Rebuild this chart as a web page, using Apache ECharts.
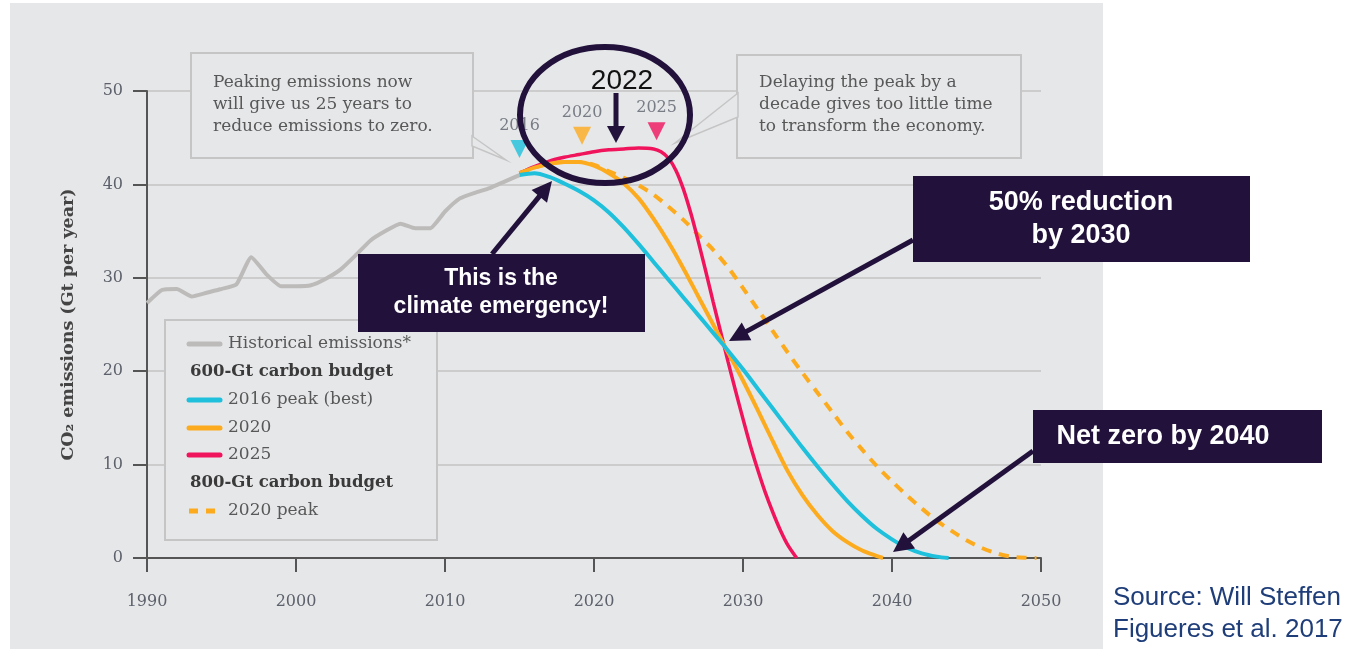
<!DOCTYPE html>
<html>
<head>
<meta charset="utf-8">
<script src="https://cdn.jsdelivr.net/npm/echarts@6/dist/echarts.min.js"></script>
<style>
html,body{margin:0;padding:0;background:#fff;}
#panel{position:absolute;left:10px;top:3px;width:1093px;height:646px;background:#e6e7e9;}
#chart{position:absolute;left:0;top:0;width:1358px;height:649px;}
</style>
</head>
<body>
<div id="panel"></div>
<div id="chart"></div>
<script>
// ---------- DATA ----------
const histYears = [1990,1991,1992,1993,1994,1995,1996,1997,1998,1999,2000,2001,2002,2003,2004,2005,2006,2007,2008,2009,2010,2011,2012,2013,2014,2015];
const histValues = [27.3,28.7,28.8,28.0,28.4,28.8,29.3,32.2,30.4,29.1,29.1,29.2,29.9,30.9,32.4,34.0,35.0,35.8,35.3,35.3,37.1,38.5,39.1,39.6,40.3,41.0];

const peak2016Years = [2015,2016,2017,2018,2019,2020,2021,2022,2023,2024,2025,2026,2027,2028,2029,2030,2031,2032,2033,2034,2035,2036,2037,2038,2039,2040,2041,2042,2043,2043.8];
const peak2016Values = [41.0,41.2,40.8,40.1,39.3,38.3,37.0,35.4,33.6,31.7,29.8,27.9,26.0,24.1,22.2,20.2,18.1,16.0,13.9,11.8,9.8,7.9,6.1,4.5,3.1,2.0,1.1,0.5,0.15,0];

const peak2020Years = [2015,2016,2017,2018,2019,2020,2021,2022,2023,2024,2025,2026,2027,2028,2029,2030,2031,2032,2033,2034,2035,2036,2037,2038,2039,2039.4];
const peak2020Values = [41.2,41.8,42.2,42.4,42.4,42.0,41.2,40.1,38.5,36.3,33.8,31.0,28.0,25.0,22.0,19.0,15.8,12.5,9.3,6.7,4.6,2.9,1.7,0.8,0.2,0];

const peak2025Years = [2015,2016,2017,2018,2019,2020,2021,2022,2023,2024,2024.5,2025,2025.5,2026,2026.5,2027,2027.5,2028,2028.5,2029,2029.5,2030,2030.5,2031,2031.5,2032,2032.5,2033,2033.6];
const peak2025Values = [41.2,41.9,42.5,42.9,43.2,43.5,43.7,43.8,43.9,43.8,43.5,42.8,41.5,39.5,36.9,33.9,30.7,27.4,24.2,21.0,17.9,14.9,12.0,9.4,7.0,4.9,3.0,1.4,0];

const budget800Years = [2015,2016,2017,2018,2019,2020,2021,2022,2023,2024,2025,2026,2027,2028,2029,2030,2031,2032,2033,2034,2035,2036,2037,2038,2039,2040,2041,2042,2043,2044,2045,2046,2047,2048,2049,2049.7];
const budget800Values = [41.2,41.8,42.2,42.4,42.4,42.1,41.4,40.7,39.9,38.9,37.6,36.2,34.6,33.0,31.1,28.9,26.6,24.3,22.0,19.8,17.7,15.6,13.5,11.6,9.8,8.2,6.7,5.3,4.0,2.9,1.9,1.1,0.5,0.15,0.02,0];

const peakMarkerYears = [2015, 2019.2, 2024.2];
const peakMarkerValues = [43.8, 45.2, 45.7];
const peakMarkerLabels = ['2016', '2020', '2025'];

const legendLabels = ['Historical emissions*', '600-Gt carbon budget', '2016 peak (best)', '2020', '2025', '800-Gt carbon budget', '2020 peak'];
const xTicks = [1990, 2000, 2010, 2020, 2030, 2040, 2050];
const yTicks = [0, 10, 20, 30, 40, 50];

// ---------- STYLE ----------
const BG = '#e6e7e9';
const DARK = '#22113b';
const GRAY = '#bdbbba';
const CYAN = '#1ec0dc';
const ORANGE = '#fdab1e';
const RED = '#f0145c';
const SERIF = '"DejaVu Serif", serif';
const SANS = '"Liberation Sans", Arial, sans-serif';
const TICKC = '#5d616b';
const markerColors = [CYAN, ORANGE, RED];

function pairs(xs, ys) { return xs.map((x, i) => [x, ys[i]]); }

function arrow(x1, y1, x2, y2, w, hl, hw) {
  const dx = x2 - x1, dy = y2 - y1, L = Math.hypot(dx, dy);
  const ux = dx / L, uy = dy / L;
  const bx = x2 - ux * hl, by = y2 - uy * hl;
  const px = -uy, py = ux;
  return [
    {type: 'line', z: 200, shape: {x1: x1, y1: y1, x2: bx + ux * 2, y2: by + uy * 2}, style: {stroke: DARK, lineWidth: w}},
    {type: 'polygon', z: 200, shape: {points: [[x2, y2], [bx + px * hw, by + py * hw], [bx - px * hw, by - py * hw]]}, style: {fill: DARK}}
  ];
}

function txt(x, y, text, font, fill, align, vAlign, lineHeight, z) {
  return {type: 'text', z: z || 120, style: {x: x, y: y, text: text, font: font, fill: fill,
    align: align || 'left', verticalAlign: vAlign || 'middle', textAlign: align || 'left', textVerticalAlign: vAlign || 'middle',
    lineHeight: lineHeight}};
}

const graphics = [];
// callout box 1
graphics.push({type: 'rect', z: 50, shape: {x: 191, y: 53, width: 282, height: 105}, style: {fill: BG, stroke: '#c5c5c5', lineWidth: 2}});
graphics.push({type: 'polygon', z: 51, shape: {points: [[472, 136], [506, 160], [472, 146]]}, style: {fill: BG, stroke: '#c5c5c5', lineWidth: 1.5}});
graphics.push(txt(213, 72, 'Peaking emissions now\nwill give us 25 years to\nreduce emissions to zero.', '17px ' + SERIF, '#585858', 'left', 'top', 22, 60));
// callout box 2
graphics.push({type: 'rect', z: 50, shape: {x: 737, y: 55, width: 284, height: 103}, style: {fill: BG, stroke: '#c5c5c5', lineWidth: 2}});
graphics.push({type: 'polygon', z: 51, shape: {points: [[738, 93], [675, 143], [738, 117]]}, style: {fill: BG, stroke: '#c5c5c5', lineWidth: 1.5}});
graphics.push(txt(759, 72, 'Delaying the peak by a\ndecade gives too little time\nto transform the economy.', '17px ' + SERIF, '#585858', 'left', 'top', 22, 60));

// legend box
graphics.push({type: 'rect', z: 50, shape: {x: 165, y: 320, width: 272, height: 220}, style: {fill: BG, stroke: '#c5c5c5', lineWidth: 2}});
const legendRows = [344, 372, 400, 428, 455, 483, 511];
const legendLineColors = [GRAY, null, CYAN, ORANGE, RED, null, ORANGE];
legendLabels.forEach((lab, i) => {
  const y = legendRows[i];
  const c = legendLineColors[i];
  if (c) {
    graphics.push({type: 'line', z: 60, shape: {x1: 189, y1: y, x2: 220, y2: y},
      style: {stroke: c, lineWidth: 5, lineCap: i === 6 ? 'butt' : 'round', lineDash: i === 6 ? [9, 8] : null}});
    graphics.push(txt(228, y, lab, '17px ' + SERIF, '#585858', 'left', 'middle', null, 60));
  } else {
    graphics.push(txt(190, y, lab, 'bold 16.5px ' + SERIF, '#3a3a3a', 'left', 'middle', null, 60));
  }
});

// dark annotation boxes
graphics.push({type: 'rect', z: 150, shape: {x: 358, y: 254, width: 287, height: 78}, style: {fill: DARK}});
graphics.push(txt(501, 293, 'This is the\nclimate emergency!', 'bold 23px ' + SANS, '#ffffff', 'center', 'middle', 28, 160));
graphics.push({type: 'rect', z: 150, shape: {x: 913, y: 176, width: 337, height: 86}, style: {fill: DARK}});
graphics.push(txt(1081, 219, '50% reduction\nby 2030', 'bold 27px ' + SANS, '#ffffff', 'center', 'middle', 33, 160));
graphics.push({type: 'rect', z: 150, shape: {x: 1033, y: 410, width: 289, height: 53}, style: {fill: DARK}});
graphics.push(txt(1163, 437, 'Net zero by 2040', 'bold 27px ' + SANS, '#ffffff', 'center', 'middle', null, 160));

// arrows
arrow(492, 254, 552, 181, 5, 20, 10).forEach(g => graphics.push(g));
arrow(913, 240, 729, 341, 5, 20, 10).forEach(g => graphics.push(g));
arrow(1033, 451, 893, 552, 5, 20, 10).forEach(g => graphics.push(g));
arrow(616, 93, 616, 143, 5, 17, 9).forEach(g => graphics.push(g));

// ellipse and 2022
graphics.push({type: 'ellipse', z: 190, shape: {cx: 605, cy: 115, rx: 85, ry: 68}, style: {fill: null, stroke: DARK, lineWidth: 6}});
graphics.push(txt(622, 81, '2022', '28px ' + SANS, '#111111', 'center', 'middle', null, 195));

// source
graphics.push(txt(1113, 614, 'Source: Will Steffen\nFigueres et al. 2017', '26px ' + SANS, '#1f3e79', 'left', 'middle', 32, 100));

const lineBase = {type: 'line', showSymbol: false, symbol: 'none', smooth: 0.3, z: 5};

const option = {
  animation: false,
  backgroundColor: 'transparent',
  grid: {left: 147, right: 317, top: 91, bottom: 91, containLabel: false},
  xAxis: {
    type: 'value', min: 1990, max: 2050, interval: 10,
    axisLine: {show: true, onZero: false, lineStyle: {color: '#555', width: 2}},
    axisTick: {show: true, length: 14, lineStyle: {color: '#555', width: 2}},
    axisLabel: {margin: 36, fontFamily: SERIF, fontSize: 16, color: TICKC, formatter: v => String(v)},
    splitLine: {show: false}
  },
  yAxis: {
    type: 'value', min: 0, max: 50, interval: 10,
    name: 'CO\u2082 emissions (Gt per year)', nameLocation: 'middle', nameRotate: 90, nameGap: 70,
    nameTextStyle: {fontFamily: SERIF, fontSize: 17.5, fontWeight: 'bold', color: '#444'},
    axisLine: {show: true, lineStyle: {color: '#555', width: 2}},
    axisTick: {show: true, length: 14, lineStyle: {color: '#555', width: 2}},
    axisLabel: {margin: 24, fontFamily: SERIF, fontSize: 16, color: TICKC, formatter: v => String(v)},
    splitLine: {show: true, lineStyle: {color: '#c3c3c3', width: 1.5}}
  },
  series: [
    Object.assign({}, lineBase, {name: legendLabels[0], data: pairs(histYears, histValues), smooth: 0.15, lineStyle: {color: GRAY, width: 4}}),
    Object.assign({}, lineBase, {name: legendLabels[6], data: pairs(budget800Years, budget800Values), lineStyle: {color: ORANGE, width: 4, type: [10, 8]}}),
    Object.assign({}, lineBase, {name: legendLabels[4], data: pairs(peak2025Years, peak2025Values), lineStyle: {color: RED, width: 3.5}}),
    Object.assign({}, lineBase, {name: legendLabels[3], data: pairs(peak2020Years, peak2020Values), lineStyle: {color: ORANGE, width: 4}}),
    Object.assign({}, lineBase, {name: legendLabels[2], data: pairs(peak2016Years, peak2016Values), lineStyle: {color: CYAN, width: 4}}),
    {
      type: 'scatter', z: 6, symbol: 'triangle', symbolRotate: 180, symbolSize: [18, 18],
      data: peakMarkerYears.map((y, i) => ({value: [y, peakMarkerValues[i]], name: peakMarkerLabels[i], itemStyle: {color: markerColors[i]}})),
      label: {show: true, position: 'top', distance: 6, formatter: p => p.name, fontFamily: SERIF, fontSize: 16, color: TICKC}
    }
  ],
  graphic: {elements: graphics}
};

const chart = echarts.init(document.getElementById('chart'), null, {renderer: 'canvas'});
chart.setOption(option);
</script>
</body>
</html>
